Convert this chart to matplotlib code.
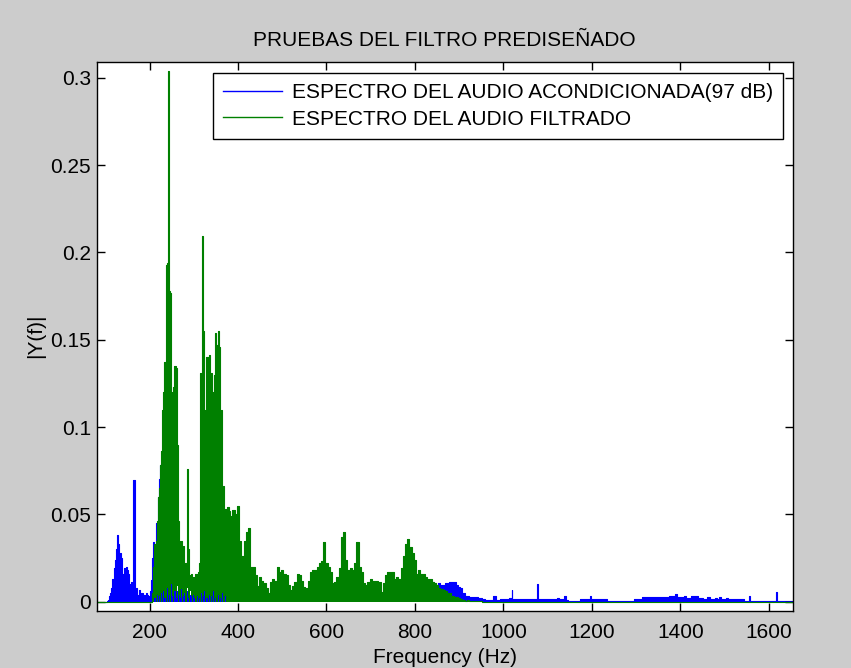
import numpy as np
import matplotlib
matplotlib.use("Agg")
import matplotlib.pyplot as plt
from matplotlib.lines import Line2D

# |Y(f)| of the conditioned recording (blue), sampled per band
blue_low = [  # 2.5 Hz bins from 100 Hz
    0.0, 0.0, 0.0005, 0.001, 0.003, 0.005, 0.008, 0.013, 0.019, 0.024,
    0.03, 0.038, 0.033, 0.022, 0.028, 0.025, 0.016, 0.019, 0.017, 0.02,
    0.018, 0.016, 0.008, 0.01, 0.0115, 0.005, 0.0697, 0.006, 0.008, 0.004,
    0.003, 0.0067, 0.004, 0.005, 0.0048, 0.004, 0.003, 0.0048, 0.004, 0.003,
    0.003, 0.006, 0.0124, 0.025, 0.034, 0.029, 0.045, 0.037, 0.06, 0.07,
    0.078, 0.079, 0.06, 0.05, 0.03,
]
blue_mid = [  # 10 Hz bins from 240 Hz
    0.008, 0.01, 0.006, 0.012, 0.006, 0.004, 0.005, 0.004, 0.008, 0.006,
    0.007, 0.01, 0.006, 0.005, 0.004, 0.005, 0.004, 0.003, 0.004, 0.003,
    0.003, 0.004, 0.003, 0.002, 0.003, 0.004, 0.003, 0.003, 0.002, 0.003,
    0.003, 0.002, 0.003, 0.003, 0.004, 0.004, 0.003, 0.003, 0.002, 0.004,
    0.006, 0.003, 0.003, 0.004, 0.003, 0.002, 0.003, 0.003, 0.002, 0.003,
    0.003, 0.003, 0.004, 0.004, 0.006, 0.005, 0.005, 0.005, 0.006, 0.008,
]
blue_edge = [  # 5 Hz bins from 835 Hz
    0.009, 0.011, 0.0095, 0.0095, 0.0107, 0.0095, 0.0095, 0.0105, 0.0105, 0.0115,
    0.0115, 0.011, 0.0095, 0.0085, 0.0076, 0.0048, 0.0035, 0.003, 0.0029, 0.0029,
    0.0027, 0.0025, 0.0022, 0.0019, 0.0015, 0.0012, 0.001, 0.001, 0.0012, 0.0032,
    0.001, 0.0012, 0.0015, 0.0015,
]
blue_tail_hz = [
    1005, 1010, 1015, 1018, 1019.5, 1021, 1030, 1040, 1050, 1060,
    1070, 1075, 1076.8, 1078.5, 1085, 1095, 1105, 1113, 1120, 1124,
    1128, 1135, 1139.4, 1143, 1150, 1160, 1170, 1178, 1185, 1192,
    1197.5, 1200, 1210, 1220, 1230, 1237, 1250, 1270, 1290, 1300,
    1310, 1318, 1330, 1340, 1350, 1360, 1370, 1378, 1384, 1390,
    1396, 1405, 1411.5, 1416, 1422, 1427, 1432, 1437, 1443, 1448.5,
    1456, 1463.5, 1469, 1475, 1480, 1486, 1490, 1495, 1501, 1505,
    1510, 1520, 1530, 1540, 1546, 1554, 1556, 1558, 1570, 1590,
    1610, 1616, 1618, 1620, 1640, 1654,
]
blue_tail = [
    0.0015, 0.0015, 0.0019, 0.0019, 0.0067, 0.0013, 0.0013, 0.0013, 0.0013, 0.0013,
    0.0013, 0.0013, 0.01, 0.0015, 0.0015, 0.0015, 0.0015, 0.0015, 0.0013, 0.0023,
    0.0015, 0.0015, 0.0033, 0.001, 0.0004, 0.0004, 0.0004, 0.0015, 0.0015, 0.0015,
    0.0033, 0.0015, 0.0015, 0.0015, 0.0015, 0.0004, 0.0004, 0.0004, 0.0004, 0.0017,
    0.0017, 0.0025, 0.0025, 0.0025, 0.0025, 0.0025, 0.0025, 0.0035, 0.0035, 0.0042,
    0.0025, 0.0025, 0.0035, 0.0023, 0.0023, 0.0033, 0.0033, 0.0033, 0.0023, 0.0019,
    0.0015, 0.0025, 0.0015, 0.0015, 0.0023, 0.0015, 0.0025, 0.0015, 0.0015, 0.0023,
    0.0015, 0.0015, 0.0015, 0.0015, 0.0004, 0.0004, 0.0035, 0.0004, 0.0004, 0.0004,
    0.0004, 0.0004, 0.0056, 0.0004, 0.0004, 0.0004,
]

# |Y(f)| after the filter (green)
green_fine = [  # 2.5 Hz bins from 205 Hz
    0.0, 0.005, 0.02, 0.033, 0.035, 0.046, 0.06, 0.065, 0.078, 0.086,
    0.11, 0.12, 0.137, 0.193, 0.194, 0.304, 0.178, 0.177, 0.081, 0.12,
    0.123, 0.135, 0.134, 0.09, 0.046, 0.035, 0.033, 0.035, 0.025, 0.032,
    0.02, 0.022, 0.076, 0.03, 0.015, 0.012, 0.016, 0.01, 0.014, 0.009,
    0.016, 0.012, 0.017, 0.022, 0.131, 0.128, 0.2095, 0.155, 0.105, 0.11,
    0.14, 0.139, 0.141, 0.115, 0.131, 0.12, 0.103, 0.13, 0.154, 0.147,
    0.155, 0.146, 0.097, 0.11, 0.065, 0.066, 0.05, 0.053, 0.05, 0.054,
]
green_fine_floor = [
    0, 0, 0, 0.002, 0, 0.004, 0, 0.003, 0, 0.005,
    0, 0.006, 0.002, 0, 0.008, 0, 0.004, 0, 0.01, 0.003,
    0, 0.006, 0.002, 0.009, 0, 0.004, 0.002, 0.007, 0, 0.003,
    0.005, 0, 0.008, 0.002, 0, 0.006, 0.003, 0, 0.004, 0.002,
    0, 0.003, 0, 0.002, 0, 0.005, 0, 0.003, 0.006, 0,
    0.002, 0, 0.004, 0, 0.003, 0, 0.006, 0, 0.002, 0,
    0.004, 0, 0.002, 0, 0.005, 0, 0, 0.003, 0, 0,
]
green_coarse = [  # 5 Hz bins from 380 Hz
    0.052, 0.049, 0.0525, 0.05, 0.055, 0.035, 0.026, 0.035, 0.04, 0.042,
    0.02, 0.02, 0.015, 0.009, 0.014, 0.012, 0.0105, 0.008, 0.005, 0.011,
    0.013, 0.012, 0.02, 0.017, 0.018, 0.016, 0.015, 0.0095, 0.0067, 0.009,
    0.011, 0.016, 0.015, 0.012, 0.0086, 0.0076, 0.012, 0.017, 0.018, 0.018,
    0.02, 0.022, 0.023, 0.034, 0.022, 0.02, 0.017, 0.0105, 0.0115, 0.014,
    0.019, 0.037, 0.04, 0.024, 0.018, 0.019, 0.018, 0.022, 0.034, 0.02,
    0.017, 0.0105, 0.0095, 0.0115, 0.013, 0.012, 0.012, 0.012, 0.0115, 0.0057,
    0.0105, 0.015, 0.017, 0.017, 0.017, 0.013, 0.014, 0.013, 0.019, 0.026,
    0.033, 0.036, 0.0315, 0.028, 0.024, 0.016, 0.018, 0.016, 0.016, 0.014,
    0.013, 0.013, 0.0115, 0.0105, 0.0095, 0.0076, 0.007, 0.0067, 0.006, 0.0052,
    0.0048, 0.003, 0.0029, 0.0025, 0.0019, 0.0015, 0.001, 0.0006, 0.0008, 0.0005,
    0.0006, 0.0004, 0.0004, 0.0002, 0.0002, 0.0,
]

F_MIN, F_MAX = 80.6, 1654.0
BLUE = (0, 0, 1)
GREEN = (0, 0.5, 0)
FONT = "Liberation Sans"
FS = 15


def bins(start, step, values):
    return start + step * np.arange(len(values))


blue_f = np.concatenate([bins(100, 2.5, blue_low), bins(240, 10, blue_mid),
                         bins(835, 5, blue_edge), blue_tail_hz])
blue_y = np.concatenate([blue_low, blue_mid, blue_edge, blue_tail])

green_f = np.concatenate([[F_MIN], bins(205, 2.5, green_fine),
                          bins(380, 5, green_coarse), [F_MAX]])
green_y = np.concatenate([[0], green_fine, green_coarse, [0]])
green_lo = np.concatenate([[0], green_fine_floor, np.zeros(len(green_coarse)), [0]])

plt.rcParams["font.family"] = FONT
fig = plt.figure(figsize=(8.51, 6.68), dpi=100, facecolor="#cccccc")
ax = fig.add_axes([96.7 / 851, 57.3 / 668, 696 / 851, 549 / 668])

# blue underneath, green drawn over it
ax.fill_between(blue_f, 0, blue_y, step="mid", color=BLUE, lw=0, zorder=1)
ax.plot(blue_f, blue_y, drawstyle="steps-mid", color=BLUE, lw=0.8, zorder=1.1)
ax.fill_between(green_f, green_lo, green_y, step="mid", color=GREEN, lw=0, zorder=2)
ax.plot(green_f, green_y, drawstyle="steps-mid", color=GREEN, lw=0.8, zorder=2.1)

ax.set_xlim(F_MIN, F_MAX)
ax.set_ylim(-0.0052, 0.3093)
ax.set_xticks(range(200, 1601, 200))
ax.set_yticks([0, 0.05, 0.1, 0.15, 0.2, 0.25, 0.3])
ax.set_yticklabels(["0", "0.05", "0.1", "0.15", "0.2", "0.25", "0.3"])
ax.tick_params(direction="in", top=True, right=True, length=6, width=1,
               labelsize=FS, colors="black")
ax.tick_params(axis="x", pad=9)
ax.tick_params(axis="y", pad=4)
for s in ax.spines.values():
    s.set_linewidth(1)
    s.set_color("black")
    s.set_zorder(3)

ax.set_xlabel("Frequency (Hz)", fontsize=FS, labelpad=4)
ax.set_ylabel("|Y(f)|", fontsize=FS, labelpad=4)
ax.set_title("PRUEBAS DEL FILTRO PREDISEÑADO", fontsize=FS, pad=11)

handles = [Line2D([], [], color=BLUE, lw=1), Line2D([], [], color=GREEN, lw=1)]
leg = ax.legend(handles, ["ESPECTRO DEL AUDIO ACONDICIONADA(97 dB)",
                          "ESPECTRO DEL AUDIO FILTRADO"],
                loc="upper right", bbox_to_anchor=(0.9865, 0.9789),
                borderaxespad=0, fontsize=FS, fancybox=False, framealpha=1,
                edgecolor="black", handlelength=2.8, handletextpad=0.5,
                borderpad=0.49, labelspacing=0.35)
leg.get_frame().set_linewidth(1)
leg.set_zorder(5)

fig.savefig("out.png", dpi=100, facecolor=fig.get_facecolor())
